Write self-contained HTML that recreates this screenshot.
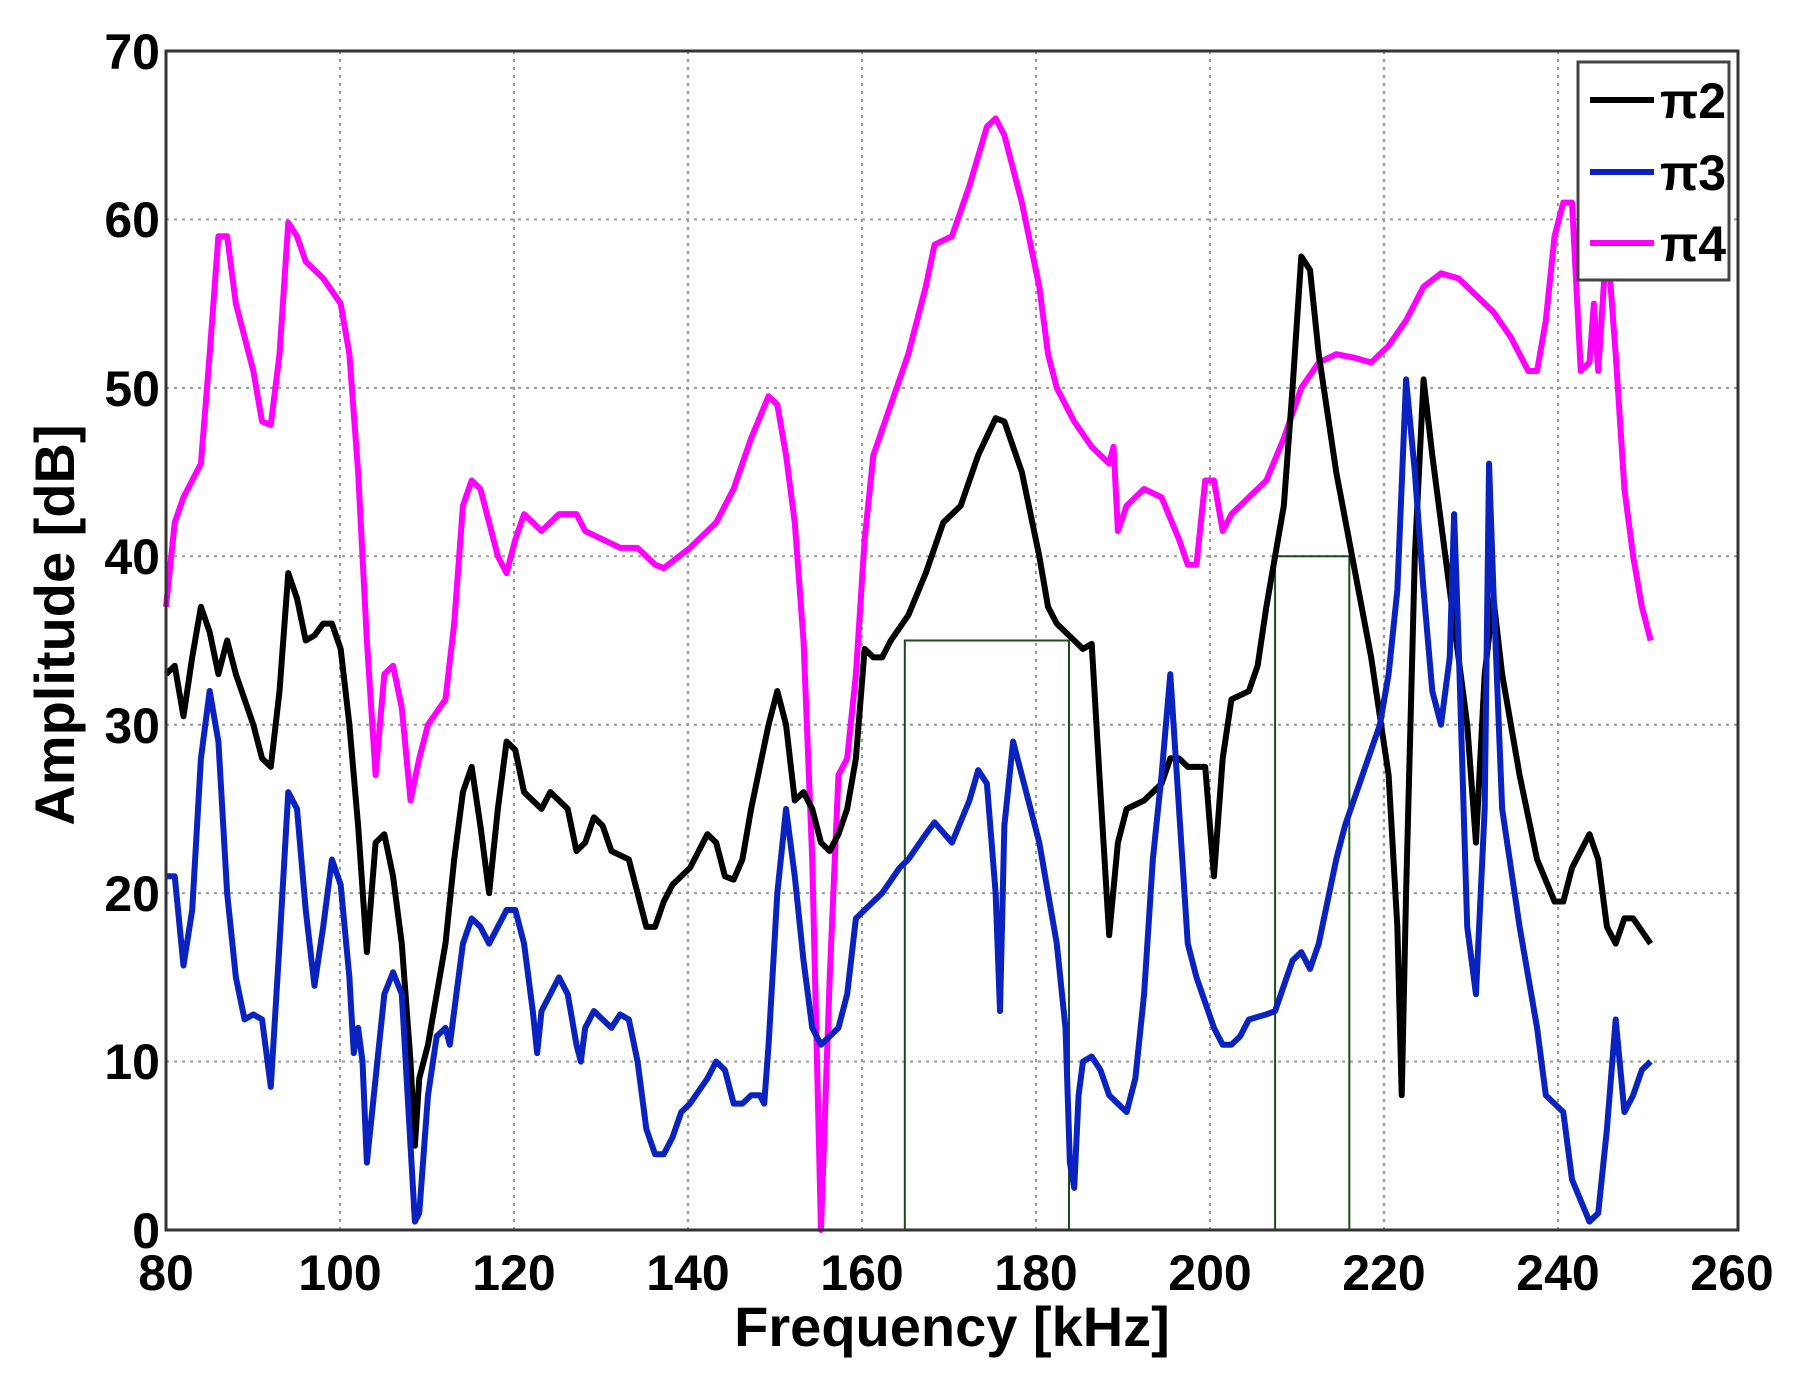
<!DOCTYPE html>
<html><head><style>body{margin:0;background:#fff}svg{display:block}</style></head><body>
<svg width="1806" height="1374" viewBox="0 0 1806 1374" xmlns="http://www.w3.org/2000/svg" font-family="Liberation Sans, sans-serif" font-weight="bold">
<g stroke="#999" stroke-width="2" stroke-dasharray="3,5">
<line x1="340" y1="51" x2="340" y2="1230"/><line x1="514" y1="51" x2="514" y2="1230"/><line x1="688" y1="51" x2="688" y2="1230"/><line x1="862" y1="51" x2="862" y2="1230"/><line x1="1036" y1="51" x2="1036" y2="1230"/><line x1="1210" y1="51" x2="1210" y2="1230"/><line x1="1384" y1="51" x2="1384" y2="1230"/><line x1="1558" y1="51" x2="1558" y2="1230"/>
<line x1="166" y1="1061.6" x2="1738" y2="1061.6"/><line x1="166" y1="893.1" x2="1738" y2="893.1"/><line x1="166" y1="724.7" x2="1738" y2="724.7"/><line x1="166" y1="556.3" x2="1738" y2="556.3"/><line x1="166" y1="387.9" x2="1738" y2="387.9"/><line x1="166" y1="219.4" x2="1738" y2="219.4"/>
</g>
<g transform="translate(166,1230) scale(8.733,-16.843) translate(-80,0)" fill="none" stroke-linejoin="round">
<polyline vector-effect="non-scaling-stroke" stroke="#1a4d1a" stroke-width="2" points="164.6,0 164.6,35 183.4,35 183.4,0"/>
<polyline vector-effect="non-scaling-stroke" stroke="#1a4d1a" stroke-width="2" points="207,0 207,40 215.5,40 215.5,0"/>
<polyline vector-effect="non-scaling-stroke" stroke="#ff00ff" stroke-width="6" points="80,37 81,42 82,43.5 84,45.5 85,52 86,59 87,59 88,55 90,51 91,48 92,47.8 93,52 94,59.8 95,59 96,57.5 98,56.5 100,55 101,52 102,45 103,35 104,27 105,33 106,33.5 107,31 108,25.5 109,28 110,30 112,31.5 113,36 114,43 115,44.5 116,44 117,42 118,40 119,39 120,41 121,42.5 122,42 123,41.5 125,42.5 127,42.5 128,41.5 130,41 132,40.5 134,40.5 136,39.5 137,39.3 140,40.5 143,42 145,44 147,47 149,49.5 150,49 151,46 152,42 153,35 154,22 155,0 156,15 157,27 158,28 159,33 160,41 161,46 163,49 165,52 167,56 168,58.5 170,59 172,62 174,65.5 175,66 176,65 178,61 180,56 181,52 182,50 184,48 186,46.5 187,46 188,45.5 188.5,46.5 189,41.5 190,43 192,44 194,43.5 196,41 197,39.5 198,39.5 199,44.5 200,44.5 201,41.5 202,42.5 204,43.5 206,44.5 208,47 210,50 212,51.5 214,52 216,51.8 218,51.5 220,52.5 222,54 224,56 226,56.8 228,56.5 230,55.5 232,54.5 234,53 236,51 237,51 238,54 239,59 240,61 241,61 242,51 243,51.5 243.5,55 244,51 245,59 246,52 247,44 248,40 249,37 250,35"/>
<polyline vector-effect="non-scaling-stroke" stroke="#000" stroke-width="6" points="80,33 81,33.5 82,30.5 83,34 84,37 85,35.5 86,33 87,35 88,33 90,30 91,28 92,27.5 93,32 94,39 95,37.5 96,35 97,35.3 98,36 99,36 100,34.5 101,30 102,24 103,16.5 104,23 105,23.5 106,21 107,17 108,10 108.5,5 109,9 110,11 111,14 112,17 113,22 114,26 115,27.5 116,24 117,20 118,25 119,29 120,28.5 121,26 123,25 124,26 126,25 127,22.5 128,23 129,24.5 130,24 131,22.5 133,22 134,20 135,18 136,18 137,19.5 138,20.5 140,21.5 142,23.5 143,23 144,21 145,20.8 146,22 147,25 149,30 150,32 151,30 152,25.5 153,26 154,25 155,23 156,22.5 157,23.5 158,25 159,28 160,34.5 161,34 162,34 163,35 165,36.5 167,39 169,42 171,43 173,46 175,48.2 176,48 178,45 180,40 181,37 182,36 184,35 185,34.5 186,34.8 187,26 188,17.5 189,23 190,25 192,25.5 194,26.5 195,28 196,28 197,27.5 199,27.5 200,21 201,28 202,31.5 204,32 205,33.5 206,37 208,43 209,50 210,57.8 211,57 212,52 214,45 216,39.5 218,34 220,27 221,18 221.5,8 222,20 223,40 224,50.5 225,46 227,38 229,30 230,23 231,33 232,37.5 233,33 235,27 237,22 239,19.5 240,19.5 241,21.5 243,23.5 244,22 245,18 246,17 247,18.5 248,18.5 250,17"/>
<polyline vector-effect="non-scaling-stroke" stroke="#0a22c0" stroke-width="6" points="80,21 81,21 82,15.7 83,19 84,28 85,32 86,29 87,20 88,15 89,12.5 90,12.8 91,12.5 92,8.5 93,17 94,26 95,25 96,19 97,14.5 98,18 99,22 100,20.5 101,15 101.5,10.5 102,12 102.5,10 103,4 104,9 105,14 106,15.3 107,14 108,5 108.5,0.5 109,1 110,8 111,11.5 112,12 112.5,11 113,13 114,17 115,18.5 116,18 117,17 118,18 119,19 120,19 121,17 122,13 122.5,10.5 123,13 124,14 125,15 126,14 127,11 127.5,10 128,12 129,13 130,12.5 131,12 132,12.8 133,12.5 134,10 135,6 136,4.5 137,4.5 138,5.5 139,7 140,7.5 142,9 143,10 144,9.5 145,7.5 146,7.5 147,8 148,8 148.5,7.5 149,11 150,20 151,25 152,21 153,16 154,12 155,11 156,11.5 157,12 158,14 159,18.5 160,19 162,20 164,21.5 165,22 167,23.5 168,24.2 170,23 172,25.5 173,27.3 174,26.5 175,20 175.5,13 176,24 177,29 178,27 180,23 181,20 182,17 183,12 183.5,4 184,2.5 184.5,8 185,10 186,10.3 187,9.5 188,8 189,7.5 190,7 191,9 192,14 193,22 194,27 195,33 196,25 197,17 198,15 199,13.5 200,12 201,11 202,11 203,11.5 204,12.5 206,12.8 207,13 208,14.5 209,16 210,16.5 211,15.5 212,17 214,22 215,24 217,27 219,30 220,33 221,38 222,50.5 223,45 224,38 225,32 226,30 227,34 227.5,42.5 228,35 229,18 230,14 231,25 231.5,45.5 232,38 233,25 235,18 237,12 238,8 240,7 241,3 243,0.5 244,1 245,6 246,12.5 247,7 248,8 249,9.5 250,10"/>
</g>
<rect x="166" y="51" width="1572" height="1179" fill="none" stroke="#333" stroke-width="3"/>
<rect x="1578" y="62" width="151" height="218" fill="#fff" stroke="#444" stroke-width="3"/>
<g stroke-width="6"><line x1="1590" y1="100" x2="1654" y2="100" stroke="#000"/><line x1="1590" y1="172" x2="1654" y2="172" stroke="#0a22c0"/><line x1="1590" y1="243" x2="1654" y2="243" stroke="#ff00ff"/></g>
<g font-size="50" fill="#000"><text x="1660" y="118">π2</text><text x="1660" y="190">π3</text><text x="1660" y="261">π4</text></g>
<g font-size="50" fill="#000" text-anchor="end">
<text x="160" y="1248">0</text><text x="160" y="1079">10</text><text x="160" y="911">20</text><text x="160" y="743">30</text><text x="160" y="574">40</text><text x="160" y="406">50</text><text x="160" y="237">60</text><text x="160" y="69">70</text></g>
<g font-size="50" fill="#000" text-anchor="middle">
<text x="166" y="1290">80</text><text x="340" y="1290">100</text><text x="514" y="1290">120</text><text x="688" y="1290">140</text><text x="862" y="1290">160</text><text x="1036" y="1290">180</text><text x="1210" y="1290">200</text><text x="1384" y="1290">220</text><text x="1558" y="1290">240</text><text x="1732" y="1290">260</text>
<text x="952" y="1346" font-size="56">Frequency [kHz]</text>
<text transform="translate(74,625) rotate(-90)" font-size="56">Amplitude [dB]</text></g>
</svg>
</body></html>
